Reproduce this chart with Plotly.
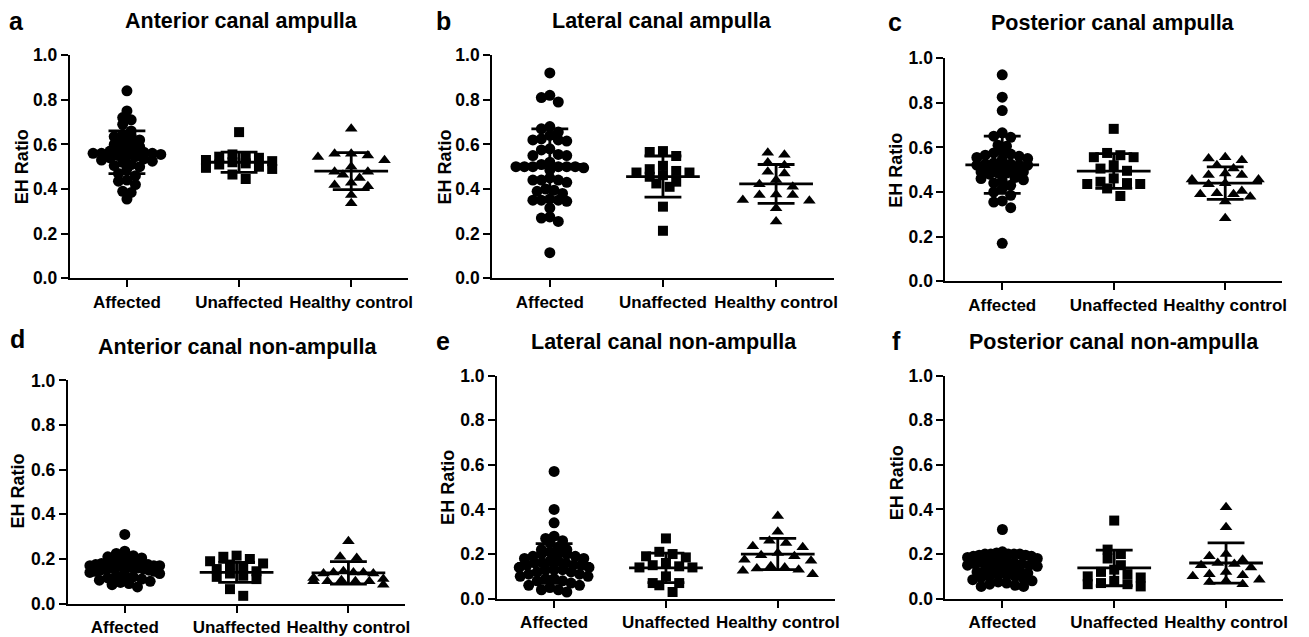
import plotly.graph_objects as go

# ---------------- data ----------------
categories = ["Affected", "Unaffected", "Healthy control"]
panel_letters = ["a", "b", "c", "d", "e", "f"]
panel_titles = ["Anterior canal ampulla", "Lateral canal ampulla", "Posterior canal ampulla",
                "Anterior canal non-ampulla", "Lateral canal non-ampulla", "Posterior canal non-ampulla"]
y_ticks = [0.0, 0.2, 0.4, 0.6, 0.8, 1.0]
y_title = "EH Ratio"

# panel a
a_affected = [0.84, 0.75, 0.72, 0.71, 0.69, 0.66, 0.645, 0.64, 0.635, 0.62, 0.615, 0.61, 0.60, 0.59,
              0.585, 0.58, 0.575, 0.57, 0.565, 0.56, 0.56, 0.56, 0.555, 0.55, 0.55, 0.545, 0.54, 0.535,
              0.53, 0.525, 0.52, 0.51, 0.505, 0.50, 0.49, 0.47, 0.46, 0.44, 0.435, 0.42, 0.39, 0.385, 0.355]
a_unaffected = [0.655, 0.555, 0.545, 0.545, 0.54, 0.53, 0.525, 0.52, 0.515, 0.51, 0.5, 0.495, 0.49, 0.465, 0.445]
a_healthy = [0.67, 0.558, 0.558, 0.55, 0.544, 0.529, 0.5, 0.478, 0.478, 0.464, 0.449, 0.428, 0.418, 0.413, 0.373, 0.336]
a_mean = [0.565, 0.52, 0.48]
a_sd = [0.096, 0.045, 0.083]

# panel b
b_affected = [0.92, 0.82, 0.81, 0.79, 0.68, 0.67, 0.655, 0.64, 0.62, 0.62, 0.625, 0.615, 0.58, 0.575, 0.555,
              0.55, 0.55, 0.52, 0.51, 0.50, 0.50, 0.50, 0.50, 0.50, 0.50, 0.495, 0.485, 0.45, 0.44, 0.44,
              0.44, 0.43, 0.40, 0.395, 0.39, 0.38, 0.355, 0.35, 0.35, 0.35, 0.345, 0.315, 0.275, 0.27, 0.255, 0.115]
b_unaffected = [0.57, 0.566, 0.548, 0.504, 0.489, 0.481, 0.474, 0.474, 0.462, 0.455, 0.433, 0.425, 0.41, 0.321, 0.213]
b_healthy = [0.563, 0.554, 0.519, 0.507, 0.477, 0.47, 0.44, 0.421, 0.41, 0.376, 0.373, 0.373, 0.351, 0.347, 0.314, 0.255]
b_mean = [0.51, 0.456, 0.423]
b_sd = [0.16, 0.092, 0.087]

# panel c
c_affected = [0.925, 0.825, 0.765, 0.665, 0.65, 0.645, 0.61, 0.605, 0.58, 0.575, 0.57, 0.565, 0.56, 0.555,
              0.55, 0.545, 0.53, 0.525, 0.525, 0.52, 0.52, 0.52, 0.515, 0.51, 0.5, 0.495, 0.49, 0.49, 0.485,
              0.485, 0.48, 0.465, 0.46, 0.455, 0.45, 0.44, 0.43, 0.415, 0.40, 0.385, 0.36, 0.355, 0.33, 0.17]
c_unaffected = [0.683, 0.575, 0.565, 0.556, 0.556, 0.52, 0.505, 0.495, 0.461, 0.446, 0.44, 0.436, 0.436, 0.416, 0.382]
c_healthy = [0.556, 0.55, 0.542, 0.52, 0.505, 0.483, 0.476, 0.476, 0.456, 0.456, 0.439, 0.435, 0.404, 0.394,
             0.39, 0.39, 0.379, 0.357, 0.283]
c_mean = [0.522, 0.494, 0.44]
c_sd = [0.128, 0.078, 0.073]

# panel d
d_affected = [0.31, 0.235, 0.225, 0.215, 0.21, 0.205, 0.2, 0.2, 0.195, 0.19, 0.19, 0.185, 0.18, 0.18, 0.175,
              0.175, 0.17, 0.17, 0.17, 0.165, 0.165, 0.165, 0.16, 0.16, 0.16, 0.155, 0.155, 0.15, 0.15, 0.145,
              0.145, 0.14, 0.135, 0.13, 0.125, 0.12, 0.115, 0.11, 0.105, 0.1, 0.095, 0.09, 0.085, 0.075]
d_unaffected = [0.215, 0.21, 0.2, 0.19, 0.18, 0.175, 0.16, 0.155, 0.145, 0.135, 0.125, 0.12, 0.11, 0.065, 0.035]
d_healthy = [0.28, 0.21, 0.205, 0.145, 0.14, 0.14, 0.14, 0.135, 0.135, 0.115, 0.11, 0.105, 0.1, 0.1, 0.1, 0.1, 0.085]
d_mean = [0.16, 0.14, 0.138]
d_sd = [0.04, 0.045, 0.05]

# panel e
e_affected = [0.57, 0.40, 0.34, 0.28, 0.27, 0.26, 0.25, 0.23, 0.22, 0.22, 0.21, 0.2, 0.2, 0.2, 0.19, 0.19,
              0.18, 0.18, 0.17, 0.17, 0.16, 0.16, 0.16, 0.15, 0.15, 0.15, 0.14, 0.14, 0.13, 0.13, 0.13, 0.12,
              0.12, 0.11, 0.11, 0.1, 0.1, 0.09, 0.09, 0.08, 0.08, 0.07, 0.06, 0.06, 0.05, 0.04, 0.04, 0.03]
e_unaffected = [0.27, 0.21, 0.2, 0.19, 0.185, 0.16, 0.15, 0.145, 0.14, 0.14, 0.1, 0.07, 0.07, 0.06, 0.03]
e_healthy = [0.37, 0.3, 0.26, 0.25, 0.235, 0.23, 0.205, 0.195, 0.19, 0.175, 0.17, 0.145, 0.14, 0.135, 0.13, 0.125, 0.11]
e_mean = [0.158, 0.138, 0.2]
e_sd = [0.089, 0.066, 0.07]

# panel f
f_affected = [0.31, 0.21, 0.205, 0.2, 0.2, 0.2, 0.2, 0.2, 0.195, 0.195, 0.19, 0.19, 0.185, 0.18, 0.175, 0.17,
              0.165, 0.16, 0.16, 0.155, 0.155, 0.15, 0.15, 0.145, 0.14, 0.14, 0.135, 0.13, 0.125, 0.12, 0.115,
              0.11, 0.105, 0.1, 0.1, 0.095, 0.09, 0.085, 0.08, 0.075, 0.07, 0.065, 0.06, 0.055, 0.055]
f_unaffected = [0.35, 0.22, 0.2, 0.18, 0.15, 0.13, 0.12, 0.11, 0.1, 0.095, 0.08, 0.07, 0.065, 0.065, 0.055]
f_healthy = [0.41, 0.32, 0.2, 0.19, 0.175, 0.16, 0.155, 0.15, 0.14, 0.12, 0.11, 0.105, 0.1, 0.085, 0.08, 0.075, 0.065]
f_mean = [0.15, 0.138, 0.16]
f_sd = [0.05, 0.08, 0.09]

panels_groups = [
    [a_affected, a_unaffected, a_healthy],
    [b_affected, b_unaffected, b_healthy],
    [c_affected, c_unaffected, c_healthy],
    [d_affected, d_unaffected, d_healthy],
    [e_affected, e_unaffected, e_healthy],
    [f_affected, f_unaffected, f_healthy],
]
panels_mean = [a_mean, b_mean, c_mean, d_mean, e_mean, f_mean]
panels_sd = [a_sd, b_sd, c_sd, d_sd, e_sd, f_sd]

# ---------------- layout geometry (pixels of the photographed page) ----------------
W, H = 1309, 637
# the photographed page maps the figure's height into rows Y_OFF .. Y_OFF + H_EFF
Y_OFF, H_EFF = 8.5, 616.0


def py(y):
    """target photo row -> paper fraction"""
    return 1 - (y - Y_OFF) / H_EFF


# (x_left, x_right, y_top, y_bottom) of each plot area
boxes = [(70, 410, 54, 279), (494, 837, 54, 279), (949, 1287, 57, 282),
         (68, 407, 382, 607), (499, 838, 377, 602), (949, 1288, 377, 602)]
letter_pos = [(17, 20), (445, 20), (898, 21), (18, 340), (445, 342), (900, 342)]
title_pos = [(242, 20), (665, 20), (1117, 22), (238, 348), (667, 343), (1118, 343)]
ytitle_pos = [(22, 166), (447, 167), (900, 170), (18, 493), (449, 490), (900, 485)]

XR = [-0.51, 2.51]
symbols = ["circle", "square", "triangle-up"]
msizes = [11, 10, 11]
spacing_px = [8.5, 13.3, 16.7]
row_tols = [0.03, 0.035, 0.035]
max_row_px = 70.0
FONT = "Liberation Sans, Arial, Helvetica, sans-serif"


def swarm_offsets(values, d, tol, dmax):
    """Prism-like column scatter: group close values into rows, spread each row symmetrically."""
    order = sorted(range(len(values)), key=lambda k: -values[k])
    offs = [0.0] * len(values)
    rows, cur = [], []
    for k in order:
        if cur and values[cur[0]] - values[k] > tol:
            rows.append(cur)
            cur = []
        cur.append(k)
    if cur:
        rows.append(cur)
    for r in rows:
        n = len(r)
        dd = d
        if n > 1 and (n - 1) * d > dmax:
            dd = dmax / (n - 1)
        slots = [(j - (n - 1) / 2.0) * dd for j in range(n)]
        slots_sorted = sorted(slots, key=lambda s: (abs(s), s))
        for idx, k in enumerate(r):
            offs[k] = slots_sorted[idx]
    return offs


fig = go.Figure()
annotations = []
for p in range(6):
    x0, x1, yt, yb = boxes[p]
    xa = "xaxis" if p == 0 else f"xaxis{p+1}"
    ya = "yaxis" if p == 0 else f"yaxis{p+1}"
    xref = "x" if p == 0 else f"x{p+1}"
    yref = "y" if p == 0 else f"y{p+1}"
    unit_px = (x1 - x0) / (XR[1] - XR[0])

    for g in range(3):
        vals = panels_groups[p][g]
        offs = swarm_offsets(vals, spacing_px[g] / unit_px, row_tols[g], max_row_px / unit_px)
        fig.add_trace(go.Scatter(
            x=[g + o for o in offs], y=vals, mode="markers", xaxis=xref, yaxis=yref,
            marker=dict(symbol=symbols[g], size=msizes[g], color="black", line=dict(width=0)),
            cliponaxis=False, showlegend=False, hoverinfo="y"))

    # mean +/- SD lines
    mean_half = 37 / unit_px
    cap_half = 18.5 / unit_px
    lx, ly = [], []
    for g in range(3):
        m, s = panels_mean[p][g], panels_sd[p][g]
        lx += [g - mean_half, g + mean_half, None]
        ly += [m, m, None]
        lx += [g - cap_half, g + cap_half, None]
        ly += [m + s, m + s, None]
        lx += [g - cap_half, g + cap_half, None]
        ly += [m - s, m - s, None]
        lx += [g, g, None]
        ly += [m - s, m + s, None]
    fig.add_trace(go.Scatter(x=lx, y=ly, mode="lines", xaxis=xref, yaxis=yref,
                             line=dict(color="black", width=2.8), cliponaxis=False,
                             showlegend=False, hoverinfo="skip"))

    fig.update_layout(**{
        xa: dict(domain=[x0 / W, x1 / W], range=XR, anchor=yref, tickvals=[0, 1, 2], ticktext=categories,
                 ticks="outside", ticklen=7, tickwidth=2, tickcolor="black", showline=True, linewidth=2,
                 linecolor="black", showgrid=False, zeroline=False, fixedrange=True,
                 tickfont=dict(family=FONT, size=17, color="black", weight="bold")),
        ya: dict(domain=[py(yb), py(yt)], range=[0, 1], anchor=xref, tickvals=y_ticks,
                 tickformat=".1f", ticks="outside", ticklen=7, tickwidth=2, tickcolor="black",
                 showline=True, linewidth=2, linecolor="black", showgrid=False, zeroline=False,
                 fixedrange=True, tickfont=dict(family=FONT, size=17.5, color="black", weight="bold")),
    })

    lxp, lyp = letter_pos[p]
    annotations.append(dict(text=f"<b>{panel_letters[p]}</b>", x=lxp / W, y=py(lyp), xref="paper",
                            yref="paper", xanchor="center", yanchor="middle", showarrow=False,
                            font=dict(family=FONT, size=25, color="black")))
    txp, typ = title_pos[p]
    annotations.append(dict(text=f"<b>{panel_titles[p]}</b>", x=txp / W, y=py(typ), xref="paper",
                            yref="paper", xanchor="center", yanchor="middle", showarrow=False,
                            font=dict(family=FONT, size=21.5, color="black")))
    yxp, yyp = ytitle_pos[p]
    annotations.append(dict(text=f"<b>{y_title}</b>", x=yxp / W, y=py(yyp), xref="paper",
                            yref="paper", xanchor="center", yanchor="middle", showarrow=False,
                            textangle=-90, font=dict(family=FONT, size=18, color="black")))

fig.update_layout(width=W, height=H, autosize=False, margin=dict(l=0, r=0, t=0, b=0),
                  paper_bgcolor="white", plot_bgcolor="white", annotations=annotations,
                  showlegend=False)

fig.write_html("out.html", config={"displayModeBar": False},
               post_script="document.body.style.margin='0';document.body.style.padding='0';"
                           "document.body.style.overflow='hidden';"
                           "document.documentElement.style.overflow='hidden';")
